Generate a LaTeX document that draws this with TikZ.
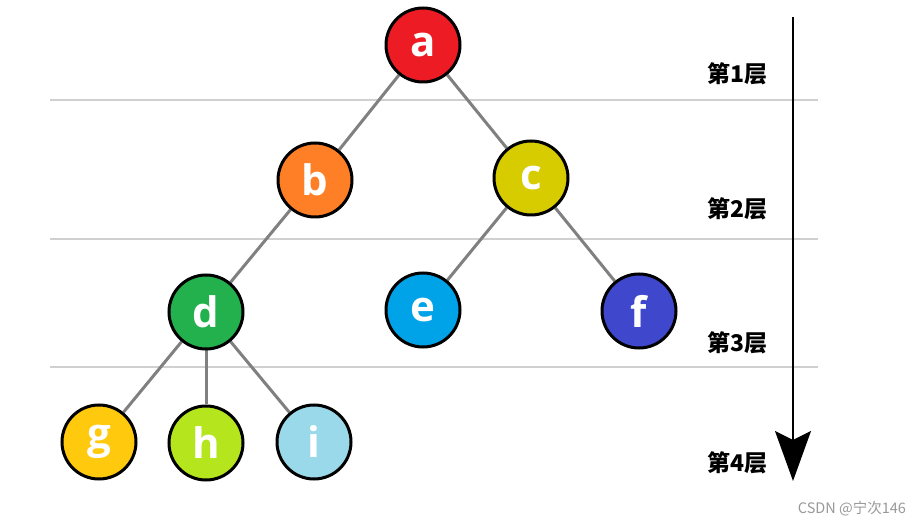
\documentclass[tikz,border=0pt]{standalone}
\usepackage{fontspec}
\newfontfamily\cjk{Noto Sans CJK SC}
\newfontfamily\latf{Open Sans}
\usetikzlibrary{arrows.meta,backgrounds}
\definecolor{ca}{HTML}{ED1C24}
\definecolor{cb}{HTML}{FF7F27}
\definecolor{cc}{HTML}{D6CC00}
\definecolor{cd}{HTML}{22B14C}
\definecolor{ce}{HTML}{00A2E8}
\definecolor{cf}{HTML}{3F48CC}
\definecolor{cg}{HTML}{FFC90E}
\definecolor{ch}{HTML}{B5E61D}
\definecolor{ci}{HTML}{99D9EA}
\definecolor{edgegray}{HTML}{808080}
\definecolor{rulegray}{HTML}{D0D0D0}
\tikzset{
  treenode/.style={circle, draw=black, line width=3pt, minimum size=74pt, inner sep=0pt,
    text=white, font=\latf\bfseries\fontsize{42}{42}\selectfont},
  treeedge/.style={draw=edgegray, line width=3pt},
  levelrule/.style={draw=rulegray, line width=1.2pt},
  levellabel/.style={font=\cjk\bfseries\fontsize{23}{23}\selectfont, text=black},
}
\begin{document}
\begin{tikzpicture}[x=1pt,y=-1pt]
\useasboundingbox (0,0) rectangle (924,526);
% nodes
\node[treenode, fill=ca] (a) at (423,45) {a};
\node[treenode, fill=cb] (b) at (315,180) {b};
\node[treenode, fill=cc] (c) at (531,178) {c};
\node[treenode, fill=cd] (d) at (206,312) {d};
\node[treenode, fill=ce] (e) at (423,310) {e};
\node[treenode, fill=cf] (f) at (639,311) {f};
\node[treenode, fill=cg] (g) at (99,442) {g};
\node[treenode, fill=ch] (h) at (206,443) {h};
\node[treenode, fill=ci] (i) at (314,442) {i};
% level rules
\coordinate (r1l) at (50,100);  \coordinate (r1r) at (818,100);
\coordinate (r2l) at (50,239);  \coordinate (r2r) at (818,239);
\coordinate (r3l) at (50,367);  \coordinate (r3r) at (818,367);
\begin{scope}[on background layer]
\fill[white] (0,0) rectangle (924,526);
\draw[levelrule] (r1l) -- (r1r);
\draw[levelrule] (r2l) -- (r2r);
\draw[levelrule] (r3l) -- (r3r);
\draw[treeedge] (a) -- (b);
\draw[treeedge] (a) -- (c);
\draw[treeedge] (b) -- (d);
\draw[treeedge] (c) -- (e);
\draw[treeedge] (c) -- (f);
\draw[treeedge] (d) -- (g);
\draw[treeedge] (d) -- (h);
\draw[treeedge] (d) -- (i);
\end{scope}
% level labels
\node[levellabel] (l1) at (737,74) {第1层};
\node[levellabel] (l2) at (737,209) {第2层};
\node[levellabel] (l3) at (737,343) {第3层};
\node[levellabel] (l4) at (737,463) {第4层};
% arrow
\coordinate (atop) at (793,17);
\coordinate (abot) at (793,481);
\draw[line width=1.5pt, -{Stealth[length=50pt, width=36pt, inset=9pt]}] (atop) -- (abot);
% credit
\node[font=\cjk\fontsize{14.5}{14.5}\selectfont, text=gray!80] (credit) at (852,509) {CSDN @宁次146};
\end{tikzpicture}
\end{document}
